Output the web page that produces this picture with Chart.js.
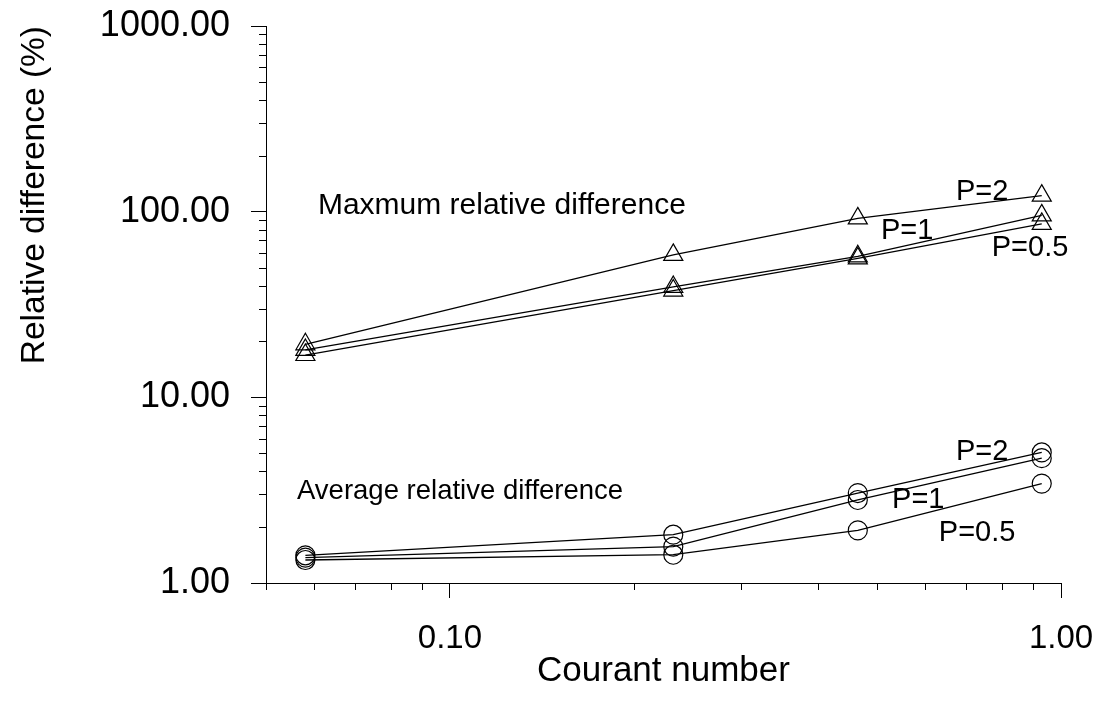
<!DOCTYPE html>
<html>
<head>
<meta charset="utf-8">
<script src="https://cdn.jsdelivr.net/npm/chart.js@4.4.1/dist/chart.umd.min.js"></script>
<style>
  html, body { margin: 0; padding: 0; background: #fff; }
</style>
</head>
<body>
<canvas id="chart" width="1116" height="704"></canvas>
<script>
// Courant numbers on the x axis
const courant = [0.058, 0.232, 0.465, 0.93];

// maximum relative difference (%)
const maxP2 = [19.3, 58.5, 92, 122];
const maxP1 = [18.0, 39.3, 57.5, 95.5];
const maxP05 = [16.9, 37.6, 56, 86];

// average relative difference (%)
const avgP2 = [1.41, 1.82, 3.05, 5.05];
const avgP1 = [1.37, 1.57, 2.8, 4.7];
const avgP05 = [1.33, 1.42, 1.92, 3.43];

const xMajor = [0.1, 1];
const yMajor = [1, 10, 100, 1000];

// text written on the plot, placed in data units
const noteText = ['Maxmum relative difference', 'Average relative difference', 'P=2', 'P=1', 'P=0.5', 'P=2', 'P=1', 'P=0.5'];
const noteX = [0.0608, 0.0562, 0.743, 0.560, 0.890, 0.743, 0.584, 0.729];
const noteY = [107.7, 3.13, 128.2, 79.0, 63.9, 5.08, 2.80, 1.86];
const noteAlign = ['left', 'left', 'center', 'center', 'center', 'center', 'center', 'center'];
const noteSize = [30, 27.5, 29, 29, 29, 29, 29, 29];

const FONT = "'Liberation Sans', Arial, sans-serif";

const xMinor = [];
for (let k = 5; k <= 9; k++) xMinor.push(k / 100);
for (let k = 2; k <= 9; k++) xMinor.push(k / 10);
const yMinor = [];
for (let d = 1; d <= 100; d *= 10) {
    for (let k = 2; k <= 9; k++) yMinor.push(k * d);
}

function series(values, style, radius) {
    return {
        data: values.map((v, i) => ({ x: courant[i], y: v })),
        borderColor: '#000',
        borderWidth: 1.3,
        pointStyle: style,
        pointRadius: radius,
        pointBorderWidth: 1.2,
        pointBorderColor: '#000',
        pointBackgroundColor: 'rgba(0,0,0,0)',
        tension: 0,
        fill: false
    };
}

const minorTicks = {
    id: 'minorTicks',
    afterDraw(chart) {
        const { ctx, scales: { x, y } } = chart;
        ctx.save();
        ctx.strokeStyle = '#000';
        ctx.lineWidth = 1;
        ctx.beginPath();
        xMinor.forEach(v => {
            const px = Math.round(x.getPixelForValue(v)) + 0.5;
            ctx.moveTo(px, x.top);
            ctx.lineTo(px, x.top + 7);
        });
        yMinor.forEach(v => {
            const py = Math.round(y.getPixelForValue(v)) + 0.5;
            ctx.moveTo(y.right - 7, py);
            ctx.lineTo(y.right, py);
        });
        ctx.stroke();
        ctx.restore();
    }
};

const notes = {
    id: 'notes',
    afterDatasetsDraw(chart) {
        const { ctx, scales: { x, y } } = chart;
        ctx.save();
        ctx.fillStyle = '#000';
        ctx.textBaseline = 'middle';
        noteText.forEach((t, i) => {
            ctx.font = noteSize[i] + 'px ' + FONT;
            ctx.textAlign = noteAlign[i];
            ctx.fillText(t, x.getPixelForValue(noteX[i]), y.getPixelForValue(noteY[i]));
        });
        ctx.restore();
    }
};

new Chart(document.getElementById('chart'), {
    type: 'line',
    data: {
        datasets: [
            series(maxP2, 'triangle', 11),
            series(maxP1, 'triangle', 11),
            series(maxP05, 'triangle', 11),
            series(avgP2, 'circle', 9.5),
            series(avgP1, 'circle', 9.5),
            series(avgP05, 'circle', 9.5)
        ]
    },
    options: {
        responsive: false,
        animation: false,
        layout: { padding: { top: 26, right: 55, left: 0, bottom: 0 } },
        plugins: {
            legend: { display: false },
            tooltip: { enabled: false }
        },
        scales: {
            x: {
                type: 'logarithmic',
                min: 0.05,
                max: 1,
                afterBuildTicks: s => { s.ticks = xMajor.map(v => ({ value: v })); },
                afterFit: s => { s.height = 121; s.paddingLeft = 0; s.paddingRight = 0; },
                grid: { drawOnChartArea: false, tickLength: 15, color: '#000', lineWidth: 1 },
                border: { color: '#000', width: 1 },
                ticks: {
                    color: '#000',
                    padding: 21,
                    maxRotation: 0,
                    font: { family: FONT, size: 33 },
                    callback: v => Number(v).toFixed(2)
                },
                title: {
                    display: true,
                    text: 'Courant number',
                    color: '#000',
                    font: { family: FONT, size: 35 },
                    padding: { top: 0, bottom: 12 }
                }
            },
            y: {
                type: 'logarithmic',
                min: 1,
                max: 1000,
                afterBuildTicks: s => { s.ticks = yMajor.map(v => ({ value: v })); },
                afterFit: s => { s.width = 266; s.paddingTop = 0; s.paddingBottom = 0; },
                grid: { drawOnChartArea: false, tickLength: 15, color: '#000', lineWidth: 1 },
                border: { color: '#000', width: 1 },
                ticks: {
                    color: '#000',
                    padding: 21,
                    font: { family: FONT, size: 36 },
                    callback: v => Number(v).toFixed(2)
                },
                title: {
                    display: true,
                    text: 'Relative difference (%)',
                    align: 'end',
                    color: '#000',
                    font: { family: FONT, size: 33.5 },
                    padding: { top: 15, bottom: 0 }
                }
            }
        }
    },
    plugins: [minorTicks, notes]
});
</script>
</body>
</html>
